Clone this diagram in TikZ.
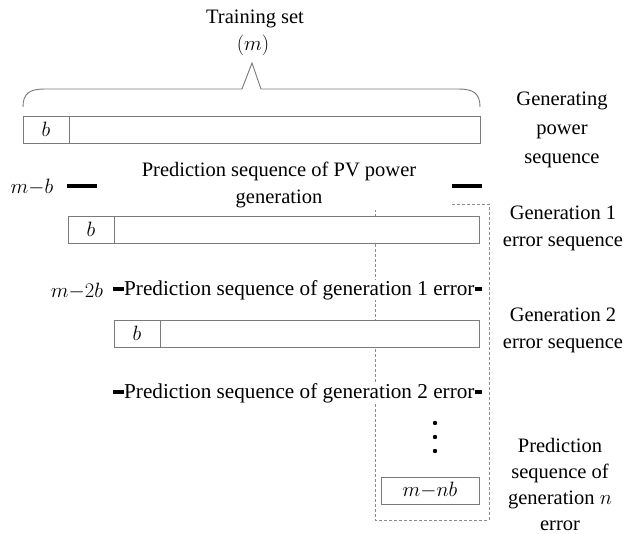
\documentclass[tikz,border=0pt]{standalone}
\usepackage{fontspec}
\setmainfont{Liberation Serif}
\definecolor{boxgray}{HTML}{7A7A7A}
\definecolor{dashgray}{HTML}{8C8C8C}
\begin{document}
\begin{tikzpicture}[x=1pt,y=-1pt,
  lbl/.style={font=\fontsize{20.5}{27}\selectfont, inner sep=0pt, align=center},
  txt/.style={font=\fontsize{21.2}{27}\selectfont, inner sep=0pt, fill=white},
  cell/.style={draw=boxgray, line width=0.9pt, fill=white, inner sep=0pt,
    outer sep=0pt, anchor=north west, minimum height=27pt,
    font=\fontsize{20.5}{24}\selectfont},
  bar/.style={line width=3.6pt},
  frame/.style={draw=dashgray, dash pattern=on 3pt off 2pt, line width=0.8pt},
  brace/.style={draw=boxgray, line width=0.9pt, line join=miter}]
\useasboundingbox (0,0) rectangle (632,534);
\fill[white] (0,0) rectangle (632,534);

% dashed frame around the error chain
\coordinate (f1) at (452,204);
\coordinate (f2) at (489,204);
\coordinate (f3) at (489,520);
\coordinate (f4) at (375,520);
\coordinate (f5) at (375,210);
\draw[frame] (f1) -- (f2) -- (f3) -- (f4) -- (f5);

% title and brace
\node[lbl] (title) at (255,19) {Training set};
\node[lbl] (tm) at (253,45) {$(m)$};
\coordinate (bl) at (23,107);
\coordinate (br) at (480,107);
\coordinate (apex) at (252,63);
\draw[brace] (bl) .. controls (23,93) and (30,89) .. (45,89) -- (242,89)
  -- (apex) -- (261,89) -- (458,89) .. controls (473,89) and (480,93) .. (br);

% generating power sequence
\node[cell, minimum width=46pt] (b1) at (23,116) {$b$};
\node[cell, minimum width=411pt] (s1) at (b1.north east) {};
\node[lbl, font=\fontsize{20.5}{29}\selectfont] (l1) at (562,130) {Generating\\power\\sequence};

% prediction of PV power
\node[lbl] (m1) at (32,187) {$m{-}b$};
\node[lbl] (p1) at (279,185) {Prediction sequence of PV power\\generation};
\coordinate (a1) at (67,186);  \coordinate (a2) at (97,186);
\coordinate (a3) at (452,186); \coordinate (a4) at (482,186);
\draw[bar] (a1) -- (a2);
\draw[bar] (a3) -- (a4);

% generation 1 error sequence
\node[cell, minimum width=46pt] (b2) at (68,216) {$b$};
\node[cell, minimum width=365pt] (s2) at (b2.north east) {};
\node[lbl] (l2) at (563,228) {Generation 1\\error sequence};

% prediction of generation 1 error
\node[lbl] (m2) at (77,291) {$m{-}2b$};
\node[txt, anchor=west] (p2) at (124,290) {Prediction sequence of generation 1 error};
\coordinate (c1) at (113,289); \coordinate (c2) at (124,289);
\coordinate (c3) at (p2.east |- c1); \coordinate (c4) at (482,289);
\draw[bar] (c1) -- (c2);
\draw[bar] (c3) -- (c4);

% generation 2 error sequence
\node[cell, minimum width=46pt] (b3) at (114,320) {$b$};
\node[cell, minimum width=319pt] (s3) at (b3.north east) {};
\node[lbl] (l3) at (563,330) {Generation 2\\error sequence};

% prediction of generation 2 error
\node[txt, anchor=west] (p3) at (124,393) {Prediction sequence of generation 2 error};
\coordinate (d1) at (113,392); \coordinate (d2) at (124,392);
\coordinate (d3) at (p3.east |- d1); \coordinate (d4) at (482,392);
\draw[bar] (d1) -- (d2);
\draw[bar] (d3) -- (d4);

% ellipsis and generation n
\foreach \yy/\nm in {423/v1,437/v2,451/v3}
  \fill (435,\yy) circle (2.2pt) coordinate (\nm);
\node[cell, minimum width=98pt] (sn) at (381,477) {$m{-}nb$};
\node[lbl, font=\fontsize{20.5}{26}\selectfont] (ln) at (560,484) {Prediction\\sequence of\\generation $n$\\error};
\end{tikzpicture}
\end{document}
